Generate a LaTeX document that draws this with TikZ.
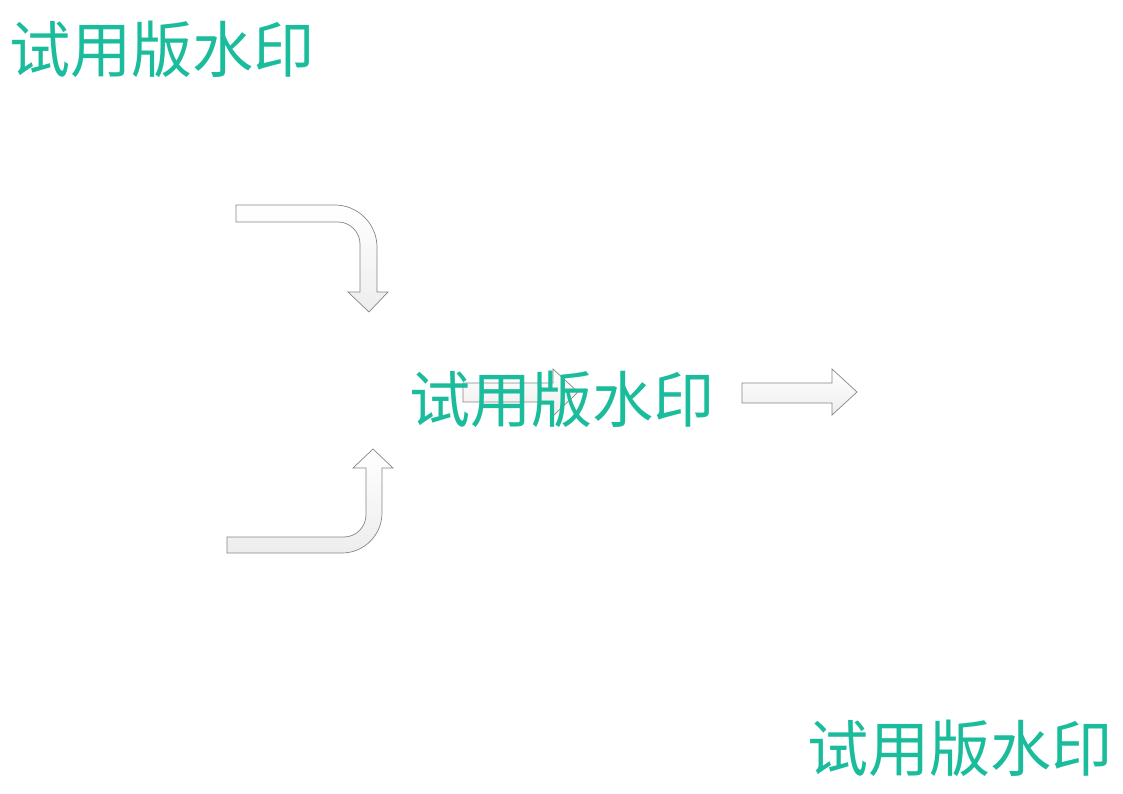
\documentclass[tikz,border=0pt]{standalone}
\usepackage{fontspec}
\newfontfamily\cjk{Noto Sans CJK SC}
\definecolor{wmgreen}{RGB}{26,188,156}
\begin{document}
\begin{tikzpicture}[x=0.025cm,y=-0.025cm,
    arrowbody/.style={draw=gray!95,line width=0.5pt,top color=white,bottom color=gray!14},
    watermark/.style={anchor=west,inner sep=0pt,text=wmgreen,font=\cjk\fontsize{43.5}{43.5}\selectfont}]
        \useasboundingbox (0,0) rectangle (1123,794);
        % bent arrow, top
        \draw[arrowbody] (236,205) -- (335,205) .. controls (358,205) and (377,224) .. (377,247)
            -- (377,292) -- (388,292) -- (369,312) -- (348,292) -- (360,292) -- (360,244)
            .. controls (360,232) and (350,222) .. (338,222) -- (236,222) -- cycle;
        % bent arrow, bottom
        \draw[arrowbody] (227,537) -- (344,537) .. controls (356,537) and (366,527) .. (366,515)
            -- (366,468) -- (353,468) -- (373,449) -- (393,468) -- (382,468) -- (382,513)
            .. controls (382,535) and (364,553) .. (342,553) -- (227,553) -- cycle;
        % straight arrows
        \draw[arrowbody] (463,383) -- (553,383) -- (553,369) -- (578,392) -- (553,416) -- (553,402) -- (463,402) -- cycle;
        \draw[arrowbody] (742,383) -- (832,383) -- (832,369) -- (857,392) -- (832,415) -- (832,403) -- (742,403) -- cycle;
        % watermarks
        \node[watermark] (wmtop) at (9,49) {试用版水印};
        \node[watermark] (wmmid) at (409,399) {试用版水印};
        \node[watermark] (wmbot) at (807,748) {试用版水印};
\end{tikzpicture}
\end{document}
